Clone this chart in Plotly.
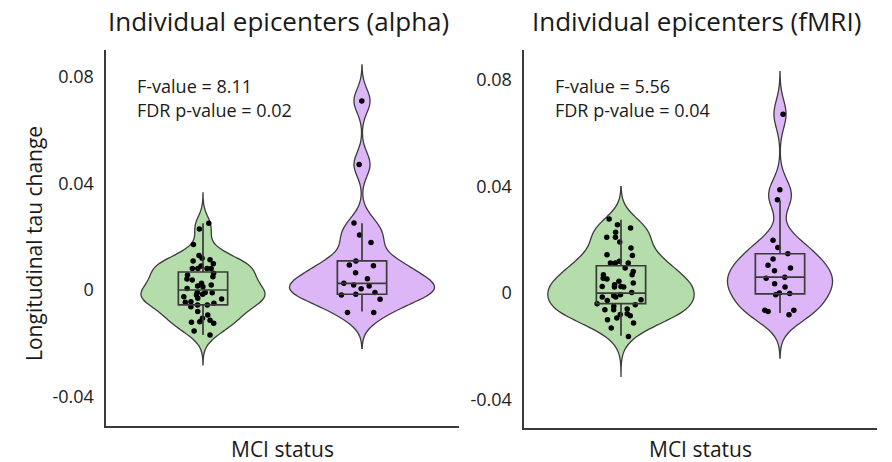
import plotly.graph_objects as go

# ---------------- data ----------------
groups = ["No MCI", "MCI"]
panel_titles = ["Individual epicenters (alpha)", "Individual epicenters (fMRI)"]
f_values = ["8.11", "5.56"]
fdr_p_values = ["0.02", "0.04"]
y_ticks = [-0.04, 0, 0.04, 0.08]
y_tick_text = ["-0.04", "0", "0.04", "0.08"]

alpha_nomci = [0.025, 0.0229, 0.0171, 0.0129, 0.0119, 0.0109, 0.0098, 0.0113, 0.009,
               0.0081, 0.0081, 0.0081, 0.0081, 0.0063, 0.0056, 0.005, 0.00375, 0.0041,
               0.0025, 0.0015, 0.0019, 0.0012, 0.0006, -0.001, -0.0009, -0.0016, -0.0009,
               -0.0025, -0.0019, -0.0031, -0.0034, -0.0044, -0.005, -0.0046, -0.0056,
               -0.0063, -0.0056, -0.0081, -0.0094, -0.0106, -0.0119, -0.0113, -0.0121,
               -0.0125, -0.0154, -0.0169]
alpha_mci = [0.0709, 0.0471, 0.0251, 0.0206, 0.0178, 0.0109, 0.0091, 0.0094, 0.0065,
             0.0042, 0.0025, 0.0019, 0.0015, 0.0005, -0.0009, -0.0016, -0.0019,
             -0.0035, -0.0084, -0.0084]
fmri_nomci = [0.0278, 0.0257, 0.0244, 0.0228, 0.021, 0.021, 0.0192, 0.0169, 0.0141,
              0.0144, 0.0119, 0.0113, 0.0113, 0.0113, 0.0094, 0.0081, 0.0069, 0.0069,
              0.0053, 0.0056, 0.0044, 0.0025, 0.0023, 0.0031, 0.0023, 0.0038, 0.0025,
              0.0002, -0.0015, -0.0006, -0.001, -0.0015, -0.0025, -0.0028, -0.004,
              -0.0044, -0.005, -0.006, -0.0063, -0.0063, -0.0078, -0.0085, -0.0094,
              -0.0081, -0.0113, -0.01, -0.0131, -0.0163]
fmri_mci = [0.0672, 0.0388, 0.035, 0.0198, 0.0171, 0.0148, 0.0128, 0.0104, 0.0094,
            0.0084, 0.0059, 0.0056, 0.0035, 0.0023, 0.0, -0.0002, -0.0006, -0.0065,
            -0.0065, -0.0069, -0.0082]

# box statistics (q1, median, q3, lower whisker, upper whisker) per panel & group
alpha_box = {"q1": [-0.0056, -0.0016], "median": [0.0, 0.0025], "q3": [0.00675, 0.0109],
             "lo": [-0.0169, -0.0081], "hi": [0.025, 0.025]}
fmri_box = {"q1": [-0.004, -0.0003], "median": [0.0, 0.006], "q3": [0.01025, 0.01476],
            "lo": [-0.016, -0.0075], "hi": [0.0275, 0.0348]}

# kernel bandwidths and density spans
alpha_bw = [0.0037, 0.0045]
alpha_span = [[-0.0281, 0.0364], [-0.0219, 0.0844]]
fmri_bw = [0.0045, 0.0053]
fmri_span = [[-0.0313, 0.040], [-0.0244, 0.0832]]

# ---------------- styling ----------------
FONT = "Open Sans"
fills = ["#b5dcab", "#ddb6f8"]
outline = "#3c3c3c"
violin_widths = [[0.78, 0.91], [0.92, 0.66]]
box_width = 0.31

panels = [
    dict(vals=[alpha_nomci, alpha_mci], box=alpha_box, bw=alpha_bw, span=alpha_span,
         xa="x", ya="y"),
    dict(vals=[fmri_nomci, fmri_mci], box=fmri_box, bw=fmri_bw, span=fmri_span,
         xa="x2", ya="y2"),
]

fig = go.Figure()
for p_i, p in enumerate(panels):
    for g_i, g in enumerate(groups):
        fig.add_trace(go.Violin(
            x=[g_i] * len(p["vals"][g_i]), y=p["vals"][g_i], name=g,
            xaxis=p["xa"], yaxis=p["ya"],
            width=violin_widths[p_i][g_i], scalemode="width",
            bandwidth=p["bw"][g_i], spanmode="manual", span=p["span"][g_i],
            fillcolor=fills[g_i], opacity=1,
            line=dict(color=outline, width=1.3),
            points=False, box_visible=False, meanline_visible=False,
            hoverinfo="skip", showlegend=False))
    for g_i, g in enumerate(groups):
        b = p["box"]
        fig.add_trace(go.Box(
            x=[g_i], q1=[b["q1"][g_i]], median=[b["median"][g_i]], q3=[b["q3"][g_i]],
            lowerfence=[b["lo"][g_i]], upperfence=[b["hi"][g_i]],
            xaxis=p["xa"], yaxis=p["ya"], width=box_width, whiskerwidth=0,
            fillcolor="rgba(0,0,0,0)", line=dict(color="#3a3a3a", width=1.7),
            boxpoints=False, hoverinfo="skip", showlegend=False))
    for g_i, g in enumerate(groups):
        fig.add_trace(go.Violin(
            x=[g_i] * len(p["vals"][g_i]), y=p["vals"][g_i], name=g,
            xaxis=p["xa"], yaxis=p["ya"],
            width=violin_widths[p_i][g_i] * 0.45, scalemode="width",
            bandwidth=p["bw"][g_i],
            fillcolor="rgba(0,0,0,0)", line=dict(color="rgba(0,0,0,0)", width=0),
            points="all", jitter=0.8, pointpos=0,
            marker=dict(color="black", size=5.5, line=dict(width=0)),
            box_visible=False, meanline_visible=False,
            hoverinfo="skip", showlegend=False))

W, H = 892, 462
xd1 = [106 / W, 459 / W]
xd2 = [524 / W, 877 / W]
yd1 = [1 - 426 / H, 1 - 50 / H]
yd2 = [1 - 428 / H, 1 - 50 / H]

xcommon = dict(range=[-0.61, 1.61], showgrid=False, zeroline=False, showticklabels=False,
               ticks="", showline=True, linecolor="#3a3a3a", linewidth=1.6, fixedrange=True)
ycommon = dict(showgrid=False, zeroline=False, tickvals=y_ticks, ticktext=y_tick_text,
               ticks="outside", ticklen=7, tickcolor="rgba(0,0,0,0)",
               tickfont=dict(family=FONT, size=18, color="#222"),
               showline=True, linecolor="#3a3a3a", linewidth=1.6, fixedrange=True)

fig.update_layout(
    width=W, height=H, margin=dict(l=0, r=0, t=0, b=0),
    paper_bgcolor="white", plot_bgcolor="white",
    violinmode="overlay", boxmode="overlay",
    xaxis=dict(domain=xd1, anchor="y", **xcommon),
    yaxis=dict(domain=yd1, anchor="x", range=[-0.051, 0.090], **ycommon),
    xaxis2=dict(domain=xd2, anchor="y2", **xcommon),
    yaxis2=dict(domain=yd2, anchor="x2", range=[-0.0507, 0.0913], **ycommon),
    font=dict(family=FONT, color="#222"),
)

ann = []
for i, xd in enumerate([xd1, xd2]):
    cx = (xd[0] + xd[1]) / 2
    ann.append(dict(text=panel_titles[i], x=cx - 4 / W, y=1 - 21 / H, xref="paper", yref="paper",
                    xanchor="center", yanchor="middle", showarrow=False,
                    font=dict(family=FONT, size=26, color="#1a1a1a")))
    ann.append(dict(text="MCI status", x=cx, y=1 - 449 / H, xref="paper", yref="paper",
                    xanchor="center", yanchor="middle", showarrow=False,
                    font=dict(family=FONT, size=21, color="#1a1a1a")))
    ann.append(dict(text=f"F-value = {f_values[i]}", x=xd[0] + 29 / W, y=1 - 86 / H,
                    xref="paper", yref="paper", xanchor="left", yanchor="middle",
                    showarrow=False, font=dict(family=FONT, size=18, color="#1a1a1a")))
    ann.append(dict(text=f"FDR p-value = {fdr_p_values[i]}", x=xd[0] + 29 / W, y=1 - 110 / H,
                    xref="paper", yref="paper", xanchor="left", yanchor="middle",
                    showarrow=False, font=dict(family=FONT, size=18, color="#1a1a1a")))
ann.append(dict(text="Longitudinal tau change", x=34 / W, y=1 - 244 / H, xref="paper",
                yref="paper", xanchor="center", yanchor="middle", textangle=-90,
                showarrow=False, font=dict(family=FONT, size=21, color="#1a1a1a")))
fig.update_layout(annotations=ann)

fig.write_html("out.html", config={"displayModeBar": False, "staticPlot": True},
               post_script="document.body.style.margin='0';document.body.style.overflow='hidden';")
